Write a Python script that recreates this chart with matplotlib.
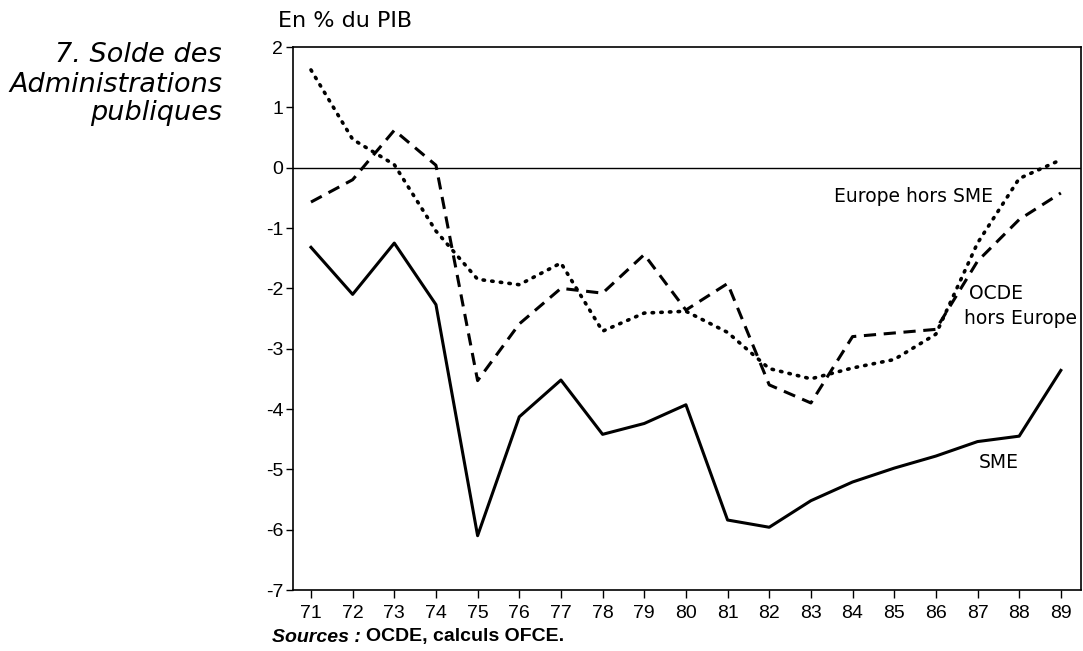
import matplotlib
matplotlib.use('Agg')
import matplotlib.pyplot as plt
import numpy as np

# Solde des administrations publiques, en % du PIB
annees = np.arange(71, 90)
sme = [-1.32, -2.1, -1.25, -2.27, -6.1, -4.13, -3.52, -4.42, -4.24, -3.93,
       -5.84, -5.96, -5.52, -5.21, -4.98, -4.78, -4.54, -4.45, -3.36]
ocde_hors_europe = [-0.57, -0.2, 0.62, 0.04, -3.53, -2.59, -2.0, -2.08, -1.44, -2.36,
                    -1.92, -3.6, -3.9, -2.8, -2.74, -2.68, -1.55, -0.86, -0.42]
europe_hors_sme = [1.62, 0.47, 0.05, -1.05, -1.85, -1.94, -1.58, -2.71, -2.41, -2.38,
                   -2.73, -3.33, -3.5, -3.32, -3.18, -2.76, -1.25, -0.18, 0.13]

plt.rcParams['font.family'] = ['Liberation Sans', 'DejaVu Sans']
large = ['DejaVu Sans']   # police plus large, comme dans l'original

fig = plt.figure(figsize=(10.83, 6.51), dpi=100)
ax = fig.add_axes([0.2706, 0.0937, 0.7274, 0.8341])

ax.plot(annees, sme, color='black', lw=2.2, ls='-')
ax.plot(annees, ocde_hors_europe, color='black', lw=2.2, ls=(0, (4, 2.5)))
ax.plot(annees, europe_hors_sme, color='black', lw=2.6, ls=(0, (0.4, 2.0)),
        dash_capstyle='round')
ax.axhline(0, color='black', lw=1.0)

ax.set_xlim(70.57, 89.48)
ax.set_ylim(-7, 2)
ax.set_xticks(annees)
ax.set_xticklabels([str(a) for a in annees])
ax.set_yticks(range(-7, 3))
ax.set_yticklabels([str(v) for v in range(-7, 3)])
ax.tick_params(axis='x', labelsize=14, length=6, width=1.0, direction='out', pad=5)
ax.tick_params(axis='y', labelsize=14, length=5, width=1.0, direction='out', pad=2)
for s in ax.spines.values():
    s.set_linewidth(1.2)

ax.text(83.55, -0.47, 'Europe hors SME', fontsize=13.5, family=large, ha='left', va='center')
ax.text(86.79, -2.08, 'OCDE', fontsize=13.5, family=large, ha='left', va='center')
ax.text(86.67, -2.5, 'hors Europe', fontsize=13.5, family=large, ha='left', va='center')
ax.text(87.03, -4.89, 'SME', fontsize=13.5, family=large, ha='left', va='center')

fig.text(278/1083, 1 - 21/651, 'En % du PIB', fontsize=16, family=large,
         ha='left', va='center')
for txt, yb in [('7. Solde des', 62), ('Administrations', 92), ('publiques', 120)]:
    fig.text(222/1083, 1 - yb/651, txt, fontsize=19.5, family=large, style='italic',
             ha='right', va='baseline')
fig.text(272/1083, 1 - 637/651, 'Sources :', fontsize=14, style='italic',
         ha='left', va='center', weight='bold')
fig.text(366/1083, 1 - 637/651, 'OCDE, calculs OFCE.', fontsize=14,
         ha='left', va='center', weight='bold')

fig.savefig('out.png', dpi=100)
